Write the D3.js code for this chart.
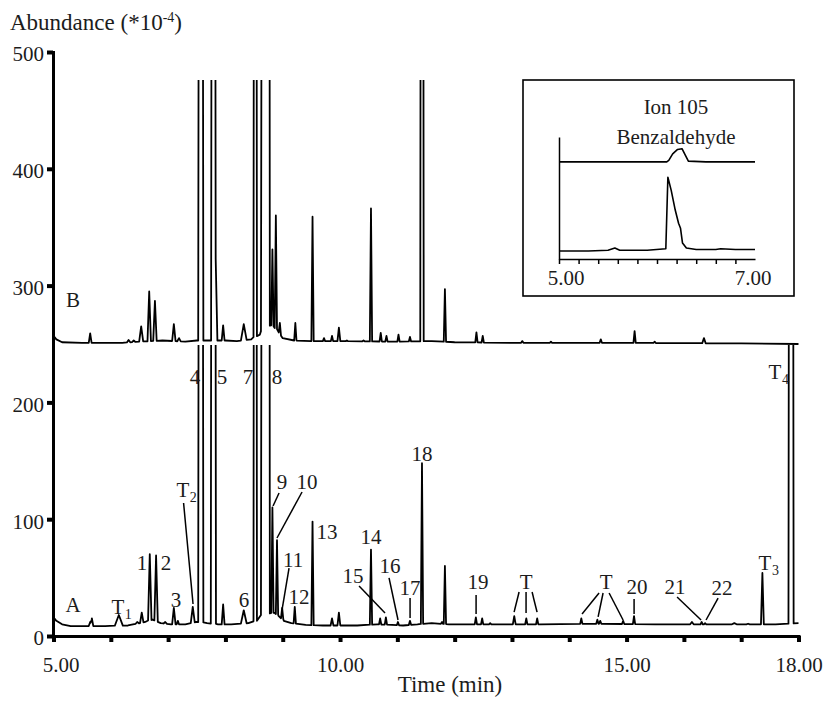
<!DOCTYPE html>
<html><head><meta charset="utf-8">
<script src="https://cdn.jsdelivr.net/npm/d3@7"></script>
<style>
body{margin:0;background:#fff;}
svg text{font-family:"Liberation Serif","Times New Roman",serif;fill:#1c1c1c;}
</style></head><body>
<svg id="chart" width="826" height="705"></svg>
<script>
// ---------------- DATA ----------------
const xTicks = [5,6,7,8,9,10,11,12,13,14,15,16,17,18];
const xTickLabels = ["5.00","","","","","10.00","","","","","15.00","","","18.00"];
const yTicks = [0,100,200,300,400,500];

// Trace A (lower chromatogram): baseline and peaks (time min, abundance, half-width min)
const baseTimeA  = [5.00,5.05,5.15,5.3,5.55,5.9,6.3,6.6,6.73,6.87,7.05,7.3,7.5,7.68,7.87,8.1,8.4,8.55,8.62,8.85,8.93,9.02,9.15,9.4,9.7,10.3,10.65,11.1,11.35,11.6,11.9,12.5,13.5,14.5,15.5,16.5,17.0,17.6,18.0];
const baseValueA = [16,13,10,8.5,8.5,8.5,9,12,14,11,10,10,12,11,10,10,11,13,18,20,17,13,11,9.5,9,9,10,9,10,11,10,10,10,10.5,10,10,10,10,11];
const peakTimeA  = [5.64,5.67,6.14,6.46,6.54,6.68,6.79,6.95,7.10,7.17,7.43,7.57,7.79,7.96,8.32,8.52,8.68,8.75,8.82,8.90,8.99,9.21,9.52,9.86,9.98,10.54,10.70,10.80,11.01,11.22,11.43,11.78,11.83,12.37,12.48,12.62,13.04,13.25,13.44,14.21,14.49,14.54,14.94,15.13,16.14,16.31,16.37,16.88,17.12,17.37,17.87];
const peakValueA = [12,15,18,12,20,70,69,12,24,13,25,2000,2000,27,22,2000,2000,2000,110,82,24,25,98,15,20,74,15,16,12,13,148,12,60,16,15,11,17,15,15,15,14,13,13,17,12,12,11,11,10.5,54,2000];
const peakWidthA = [.025,.025,.07,.03,.03,.03,.03,.03,.03,.02,.035,.045,.045,.025,.05,.03,.06,.025,.02,.02,.02,.02,.02,.025,.025,.02,.02,.02,.02,.02,.02,.02,.02,.02,.02,.02,.025,.02,.02,.02,.02,.02,.02,.02,.03,.02,.02,.04,.03,.025,.045];

// Trace B (upper chromatogram, offset)
const baseTimeB  = [5.00,5.05,5.15,5.5,6.2,6.5,6.9,7.3,7.5,8.0,8.2,8.45,8.6,8.64,8.8,8.9,9.0,9.2,9.5,10.0,11.0,11.6,12.0,13.0,15.0,17.0,18.0];
const baseValueB = [257,254,251.5,251,251,252,253,252,253,253,252.5,254,258,264,266,262,255,253,252.5,252.5,252,252.5,251.5,251,251,250.5,250];
const peakTimeB  = [5.64,6.31,6.40,6.53,6.67,6.77,7.10,7.19,7.57,7.79,7.83,7.96,8.32,8.52,8.68,8.75,8.82,8.88,8.95,9.22,9.52,9.72,9.86,9.98,10.12,10.41,10.54,10.71,10.81,11.02,11.22,11.43,11.83,12.38,12.49,13.18,13.68,14.55,15.14,15.49,16.35];
const peakValueB = [259,253.5,253,265,295,287,267,255,2000,2000,323,266,267,2000,2000,2000,331,360,268,268,359,255,257,264,253,253,366,259.5,257,258,256,2000,297,260,257,252.5,252,254,261,252,255];
const peakWidthB = [.025,.03,.03,.035,.03,.03,.03,.03,.045,.04,.03,.025,.05,.03,.06,.025,.02,.02,.02,.02,.02,.02,.02,.025,.02,.02,.02,.02,.02,.02,.02,.03,.02,.02,.02,.02,.02,.02,.02,.02,.03];

// Inset: ion 105 (benzaldehyde)
const insetTimeLow  = [5.0,5.3,5.5,5.57,5.62,5.9,6.09,6.111,6.145,6.186,6.22,6.24,6.26,6.30,6.4,6.6,6.65,6.8,7.0];
const insetValueLow = [-1,-1,0,3,0,0,2,100,82,55,37,30,10,3,1,1,2,1,1];
const insetTimeHigh  = [5.0,5.5,6.0,6.1,6.12,6.16,6.21,6.255,6.29,6.32,6.5,6.8,7.0];
const insetValueHigh = [121,121,121,121,123,132,138,139,130,122,121,121,121];
const insetTicks = [5.0,5.2,5.4,5.6,5.8,6.0,6.2,6.4,6.6,6.8];

// Peak labels (anchored in data units: time, abundance)
const labelText = ["A","B","T","1","2","3","T","4","5","6","7","8","9","10","11","12","13","14","15","16","17","18","19","T","T","20","21","22","T","T"];
const labelSub  = ["","","1","","","","2","","","","","","","","","","","","","","","","","","","","","","3","4"];
const labelTime = [5.34,5.34,6.126,6.545,6.963,7.138,7.26,7.469,7.94,8.325,8.394,8.90,8.988,9.424,9.18,9.284,9.773,10.541,10.227,10.873,11.222,11.431,12.409,13.246,14.642,15.183,15.846,16.667,17.417,17.592];
const labelValue = [26.5,287.7,24.8,62.5,62.5,30.8,125,221.7,221.7,30.8,221.7,221.7,131.8,131.8,65.1,33.4,89,84.8,51.4,59.9,41.1,155.8,46.2,46.2,46.2,42.0,42.0,41.1,62.5,226];
// Leader lines: [t1, v1, t2, v2]
const leaders = [
  [7.27,113.9,7.435,27.4],
  [8.936,122.4,8.831,111.3],
  [9.337,123.3,8.900,83.9],
  [9.110,58.2,8.988,22.3],
  [10.332,42.8,10.785,19.7],
  [10.855,49.7,11.012,13.7],
  [11.222,32.5,11.222,15.4],
  [12.374,35.1,12.374,18.8],
  [13.124,37.7,13.037,20.5],
  [13.246,37.7,13.246,19.7],
  [13.351,37.7,13.438,20.5],
  [14.520,36.8,14.223,18.8],
  [14.590,36.8,14.503,16.3],
  [14.695,36.8,14.939,13.7],
  [15.131,31.7,15.131,18.8],
  [15.881,33.4,16.300,13.7],
  [16.597,32.5,16.387,13.7]
];

// ---------------- DRAWING ----------------
const FONT = "'Liberation Serif','Times New Roman',serif";
const svg = d3.select("#chart");
const x = d3.scaleLinear().domain([5,18]).range([53.5,798.5]);
const y = d3.scaleLinear().domain([0,500]).range([636,52]);

function buildTrace(bt, bv, pt, pv, pw){
  const base = d3.scaleLinear().domain(bt).range(bv).clamp(true);
  const keys = new Set(bt);
  pt.forEach((t,i)=>{ keys.add(+(t-pw[i]).toFixed(4)); keys.add(t); keys.add(+(t+pw[i]).toFixed(4)); });
  const times = Array.from(keys).filter(t=>t>=5&&t<=18).sort((a,b)=>a-b);
  return times.map(t=>{
    let v = base(t);
    pt.forEach((p,i)=>{
      const d = Math.abs(t-p);
      if(d < pw[i]){
        const b = base(p);
        const tv = b + (pv[i]-b)*(1-d/pw[i]);
        if(tv > v) v = tv;
      }
    });
    return [t,v];
  });
}

const defs = svg.append("defs");
defs.append("clipPath").attr("id","clipA").append("rect")
  .attr("x",x(5)-2).attr("y",y(249.2)).attr("width",x(18)-x(5)+4).attr("height",y(0)-y(249.2)+4);
defs.append("clipPath").attr("id","clipB").append("rect")
  .attr("x",x(5)-2).attr("y",y(476)).attr("width",x(18)-x(5)+4).attr("height",y(0)-y(476));

const line = d3.line().x(d=>x(d[0])).y(d=>y(d[1]));

svg.append("path").datum(buildTrace(baseTimeA,baseValueA,peakTimeA,peakValueA,peakWidthA))
  .attr("d",line).attr("fill","none").attr("stroke","#000").attr("stroke-width",1.8)
  .attr("stroke-linejoin","round").attr("clip-path","url(#clipA)");
svg.append("path").datum(buildTrace(baseTimeB,baseValueB,peakTimeB,peakValueB,peakWidthB))
  .attr("d",line).attr("fill","none").attr("stroke","#000").attr("stroke-width",1.8)
  .attr("stroke-linejoin","round").attr("clip-path","url(#clipB)");

// Axes
const gx = svg.append("g").attr("transform",`translate(0,${y(0)})`)
  .call(d3.axisBottom(x).tickValues(xTicks).tickSize(6).tickSizeOuter(0).tickPadding(15)
    .tickFormat((d,i)=>xTickLabels[i]));
gx.attr("font-family",FONT).attr("font-size",21);
gx.select(".domain").attr("stroke-width",3).attr("stroke-linecap","square");
gx.selectAll(".tick line").attr("stroke-width",4);
gx.selectAll(".tick text").attr("font-family",FONT).attr("font-size",21).attr("fill","#1c1c1c")
  .attr("dx",(d,i)=>i===0?7:0);

const gy = svg.append("g").attr("transform",`translate(${x(5)-0.5},0)`)
  .call(d3.axisLeft(y).tickValues(yTicks).tickSize(6).tickSizeOuter(0).tickPadding(3)
    .tickFormat(d3.format("d")));
gy.attr("font-family",FONT).attr("font-size",21);
gy.select(".domain").attr("stroke-width",3).attr("stroke-linecap","square");
gy.selectAll(".tick line").attr("stroke-width",4);
gy.selectAll(".tick text").attr("font-family",FONT).attr("font-size",21).attr("fill","#1c1c1c").attr("dy","0.42em");

// Axis titles
const yt = svg.append("text").attr("x",10).attr("y",30).attr("font-size",23).attr("font-family",FONT);
yt.append("tspan").text("Abundance (*10");
yt.append("tspan").attr("font-size",14).attr("dy",-8).text("-4");
yt.append("tspan").attr("dy",8).text(")");
svg.append("text").attr("x",450).attr("y",692).attr("text-anchor","middle").attr("font-family",FONT)
  .attr("font-size",23).text("Time (min)");

// Peak labels
labelText.forEach((t,i)=>{
  const tx = svg.append("text").attr("x",x(labelTime[i])).attr("y",y(labelValue[i]))
    .attr("dominant-baseline","central").attr("font-size",21).attr("font-family",FONT)
    .attr("text-anchor", labelSub[i] ? "start" : "middle");
  if(labelSub[i]){
    tx.attr("x",x(labelTime[i])-6.5);
    tx.append("tspan").text(t);
    tx.append("tspan").attr("font-size",14).attr("dy",7).attr("dx",0.5).text(labelSub[i]);
  } else tx.text(t);
});
svg.append("g").selectAll("line").data(leaders).join("line")
  .attr("x1",d=>x(d[0])).attr("y1",d=>y(d[1])).attr("x2",d=>x(d[2])).attr("y2",d=>y(d[3]))
  .attr("stroke","#000").attr("stroke-width",1.5);

// Inset
const inset = {left:523, top:80, right:794, bottom:296};
svg.append("rect").attr("x",inset.left).attr("y",inset.top)
  .attr("width",inset.right-inset.left).attr("height",inset.bottom-inset.top)
  .attr("fill","#fff").attr("stroke","#000").attr("stroke-width",1.6);
const ix = d3.scaleLinear().domain([5,7]).range([559,755]);
const iy = d3.scaleLinear().domain([-12,155]).range([259,137]);
const ixa = svg.append("g").attr("transform",`translate(0,${iy(-12)})`)
  .call(d3.axisBottom(ix).tickValues(insetTicks).tickSize(5).tickSizeOuter(0).tickFormat(""));
ixa.selectAll("path,line").attr("stroke-width",1.5);
const iya = svg.append("g").attr("transform",`translate(${ix(5)},0)`)
  .call(d3.axisLeft(iy).tickValues([]).tickSizeOuter(0));
iya.selectAll("path").attr("stroke-width",1.5);
svg.append("text").attr("x",ix(5)+7).attr("y",278).attr("text-anchor","middle").attr("font-family",FONT)
  .attr("dominant-baseline","central").attr("font-size",21).text("5.00");
svg.append("text").attr("x",ix(7)-2).attr("y",278).attr("text-anchor","middle").attr("font-family",FONT)
  .attr("dominant-baseline","central").attr("font-size",21).text("7.00");
const iline = d3.line().x(d=>ix(d[0])).y(d=>iy(d[1]));
svg.append("path").datum(insetTimeLow.map((t,i)=>[t,insetValueLow[i]]))
  .attr("d",iline).attr("fill","none").attr("stroke","#000").attr("stroke-width",1.6).attr("stroke-linejoin","round");
svg.append("path").datum(insetTimeHigh.map((t,i)=>[t,insetValueHigh[i]]))
  .attr("d",iline).attr("fill","none").attr("stroke","#000").attr("stroke-width",1.6).attr("stroke-linejoin","round");
svg.append("text").attr("x",676).attr("y",107).attr("text-anchor","middle").attr("font-family",FONT)
  .attr("dominant-baseline","central").attr("font-size",21).text("Ion 105");
svg.append("text").attr("x",676).attr("y",137).attr("text-anchor","middle").attr("font-family",FONT)
  .attr("dominant-baseline","central").attr("font-size",21).text("Benzaldehyde");
</script>
</body></html>
